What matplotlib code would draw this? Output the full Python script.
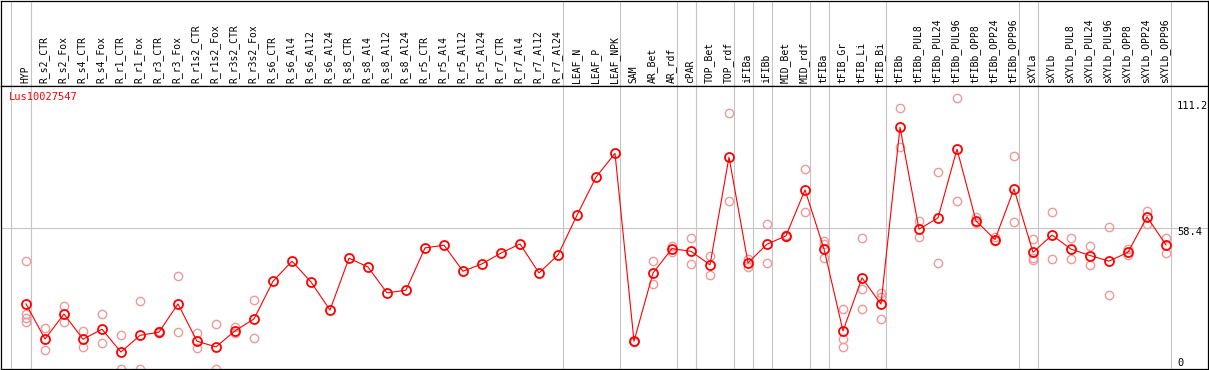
import matplotlib
matplotlib.use('Agg')
import matplotlib.pyplot as plt

# expression profile of one gene across tissues / treatments
gene = 'Lus10027547'

samples = ['HYP', 'R_s2_CTR', 'R_s2_Fox', 'R_s4_CTR', 'R_s4_Fox', 'R_r1_CTR',
           'R_r1_Fox', 'R_r3_CTR', 'R_r3_Fox', 'R_r1s2_CTR', 'R_r1s2_Fox',
           'R_r3s2_CTR', 'R_r3s2_Fox', 'R_s6_CTR', 'R_s6_Al4', 'R_s6_Al12',
           'R_s6_Al24', 'R_s8_CTR', 'R_s8_Al4', 'R_s8_Al12', 'R_s8_Al24',
           'R_r5_CTR', 'R_r5_Al4', 'R_r5_Al12', 'R_r5_Al24', 'R_r7_CTR',
           'R_r7_Al4', 'R_r7_Al12', 'R_r7_Al24', 'LEAF_N', 'LEAF_P', 'LEAF_NPK',
           'SAM', 'AR_Bet', 'AR_rdf', 'cPAR', 'TOP_Bet', 'TOP_rdf', 'iFIBa',
           'iFIBb', 'MID_Bet', 'MID_rdf', 'tFIBa', 'tFIB_Gr', 'tFIB_Li',
           'tFIB_Bi', 'tFIBb', 'tFIBb_PUL8', 'tFIBb_PUL24', 'tFIBb_PUL96',
           'tFIBb_OPP8', 'tFIBb_OPP24', 'tFIBb_OPP96', 'sXYLa', 'sXYLb',
           'sXYLb_PUL8', 'sXYLb_PUL24', 'sXYLb_PUL96', 'sXYLb_OPP8',
           'sXYLb_OPP24', 'sXYLb_OPP96']

means = [27.5, 13.2, 23.4, 13.1, 17.2, 7.9, 14.7, 16.0, 27.5, 12.3, 10.0,
         16.5, 21.4, 36.7, 44.9, 36.4, 25.0, 46.1, 42.5, 32.0, 33.1,
         50.3, 51.4, 40.8, 43.8, 48.2, 51.9, 40.1, 47.4, 63.6, 79.1, 88.8,
         12.3, 40.1, 50.0, 48.9, 43.4, 87.2, 44.2, 51.8, 55.2, 73.9,
         49.9, 16.5, 38.1, 27.4, 99.4, 57.9, 62.5, 90.5, 61.3, 53.7, 74.3,
         48.5, 55.5, 49.8, 47.2, 44.9, 48.5, 62.9, 51.5]

replicates = [
    [44.9, 23.4, 21.8, 20.2], [17.7, 8.6], [26.7, 20.2], [16.5, 10.0],
    [23.4, 11.5], [14.7, 0.9], [28.7, 0.9], [16.5, 15.6], [38.8, 16.0],
    [15.7, 9.4], [19.2, 0.9], [18.0, 15.6], [29.0, 13.5],
    [], [], [], [], [], [], [], [], [], [], [], [], [], [], [], [], [], [], [],
    [12.0, 12.6], [44.9, 35.5], [51.1, 48.8], [54.4, 43.8], [47.1, 39.2],
    [105.3, 69.3], [45.9, 42.7], [60.1, 44.2], [54.9, 55.5], [82.5, 64.8],
    [53.0, 52.0, 46.1], [25.4, 13.2, 10.0], [54.4, 33.7, 25.4],
    [31.8, 30.5, 21.4], [107.2, 91.3], [61.4, 54.6], [81.1, 44.2],
    [111.2, 69.3], [62.8, 60.6], [54.8, 52.9], [87.7, 60.7],
    [53.8, 46.3, 45.4], [64.9, 45.8], [54.4, 45.8], [51.1, 43.4],
    [58.7, 31.0], [50.0, 47.4], [65.4, 60.2], [54.4, 48.1],
]

y_top_label = 111.2
y_mid_label = 58.4
# grey separators drawn just right of these sample indices
group_ends = [-1.05, 0, 28, 31, 34, 35, 37, 38, 39, 41, 42, 45, 52, 53, 60]

W, H = 1209, 370
fig = plt.figure(figsize=(W / 100, H / 100), dpi=100)

def px_axes(left, top, right, bottom):
    return fig.add_axes([left / W, 1 - bottom / H, (right - left) / W, (bottom - top) / H])

xlim = ((1 - 26) / 19, (1208 - 26) / 19)
mono = 'DejaVu Sans Mono'
grey = '#c4c4c4'

head = px_axes(1, 0.5, 1208, 85.5)
ax = px_axes(1, 85.5, 1208, 369)

for a in (head, ax):
    a.set_xlim(*xlim)
    a.set_xticks([])
    a.set_yticks([])
    for s in a.spines.values():
        s.set_linewidth(0.9)
        s.set_color('black')
    for g in group_ends:
        a.axvline(g + 0.24, color=grey, lw=0.8, zorder=0)

# header with rotated sample names
head.set_ylim(0, 1)
for i, name in enumerate(samples):
    head.text(i - 0.05, 0.03, name, rotation=90, ha='center', va='bottom',
              family=mono, fontsize=7, color='black')

# plot area
ax.set_ylim(1.0, 116.4)
ax.axhline(y_mid_label, color=grey, lw=0.8, zorder=0)

x = list(range(len(samples)))
for i, reps in enumerate(replicates):
    ax.plot([i] * len(reps), reps, linestyle='none', marker='o', ms=6,
            mfc='none', mec='#ef9a9a', mew=1.0, zorder=2, clip_on=True)
ax.plot(x, means, color='red', lw=0.8, zorder=3)
ax.plot(x, means, linestyle='none', marker='o', ms=6.5, mfc='none',
        mec='red', mew=1.3, zorder=4)

ax.text(8.3 / 1207, 1 - 6.5 / 283.5, gene, transform=ax.transAxes, ha='left', va='top',
        family=mono, fontsize=7.5, color='red')

xr = 60 + (1177 - 1166) / 19
ax.text(xr, y_top_label - 1.2, '%.1f' % y_top_label, ha='left', va='top',
        family=mono, fontsize=7.5, color='black', clip_on=True)
ax.text(xr, y_mid_label + 0.4, '%.1f' % y_mid_label, ha='left', va='top',
        family=mono, fontsize=7.5, color='black')
ax.text(xr, 1.5, '0', ha='left', va='bottom', family=mono, fontsize=7.5,
        color='black')

fig.savefig('out.png', dpi=100)
